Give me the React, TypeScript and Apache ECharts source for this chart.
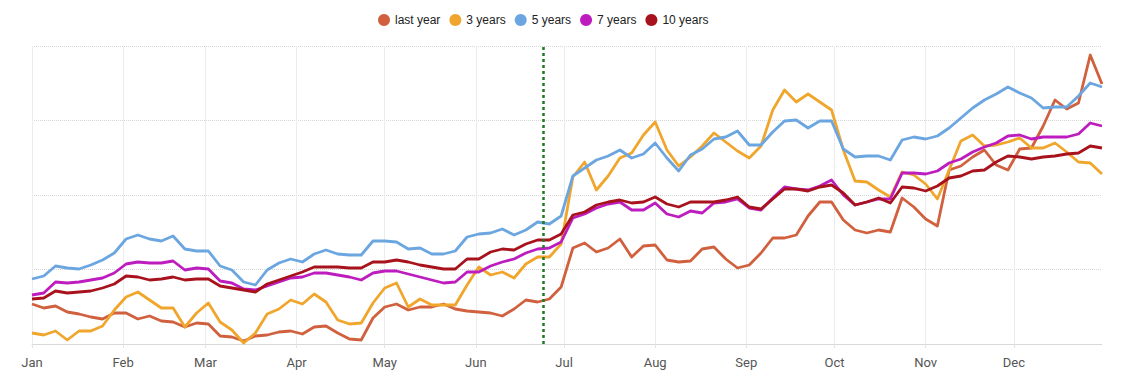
import React, { useEffect, useRef } from "react";
import * as echarts from "echarts";

// Daily categories for the year, and the sampled dates (every 4th day) the series values belong to
const YEAR = 2023;
const days: string[] = Array.from({ length: 365 }, (_, i) =>
  new Date(Date.UTC(YEAR, 0, 1 + i)).toISOString().slice(0, 10)
);
const sampleDays: string[] = days.filter((_, i) => i % 4 === 0);

const monthNames = ["Jan", "Feb", "Mar", "Apr", "May", "Jun", "Jul", "Aug", "Sep", "Oct", "Nov", "Dec"];
const markerDate = "2023-06-24";

const seriesNames = ["last year", "3 years", "5 years", "7 years", "10 years"];
const seriesColors = ["#d0603e", "#f0a62c", "#6ba6e0", "#bd1cbf", "#a8121c"];

const lastYear = [
  40, 36, 38, 32, 30, 27, 25, 31,
  31, 25, 28, 23, 22, 17, 21, 20,
  8, 7, 3, 8, 9, 12, 13, 10,
  17, 18, 11, 5, 4, 26, 37, 40,
  34, 37, 37, 40, 35, 33, 32, 31,
  28, 35, 44, 42, 45, 57, 96, 101,
  92, 96, 105, 87, 98, 99, 84, 82,
  83, 95, 97, 85, 76, 79, 91, 106,
  106, 109, 128, 142, 142, 124, 114, 111,
  114, 112, 146, 137, 125, 118, 174, 178,
  187, 194, 179, 174, 195, 196, 218, 244,
  235, 241, 289, 260,
];

const threeYears = [
  11, 9, 13, 4, 13, 13, 18, 34,
  47, 52, 44, 36, 36, 17, 31, 41,
  22, 14, 1, 11, 30, 35, 44, 40,
  50, 42, 24, 20, 21, 41, 56, 61,
  37, 45, 39, 39, 39, 59, 77, 69,
  72, 66, 80, 87, 87, 100, 167, 182,
  154, 168, 186, 191, 209, 222, 194, 178,
  187, 198, 211, 202, 193, 186, 198, 234,
  254, 242, 250, 242, 234, 194, 163, 162,
  154, 147, 172, 169, 160, 145, 174, 203,
  209, 198, 199, 202, 206, 196, 196, 201,
  192, 182, 181, 170,
];

const fiveYears = [
  65, 68, 78, 76, 75, 79, 84, 91,
  105, 109, 105, 103, 108, 95, 93, 93,
  78, 74, 62, 59, 74, 81, 85, 82,
  90, 94, 90, 89, 89, 103, 103, 102,
  95, 96, 90, 90, 93, 107, 110, 111,
  115, 109, 114, 122, 120, 128, 168, 176,
  184, 188, 194, 186, 190, 201, 186, 173,
  189, 195, 205, 207, 213, 199, 199, 212,
  223, 224, 216, 223, 223, 195, 187, 188,
  188, 184, 204, 207, 205, 208, 216, 226,
  236, 244, 250, 257, 251, 246, 236, 237,
  237, 248, 261, 257,
];

const sevenYears = [
  49, 51, 62, 61, 62, 64, 66, 71,
  80, 82, 81, 81, 83, 74, 76, 75,
  63, 61, 55, 54, 58, 62, 66, 67,
  71, 71, 69, 67, 64, 71, 73, 73,
  70, 67, 64, 61, 62, 72, 72, 78,
  82, 85, 91, 95, 96, 102, 126, 130,
  136, 140, 142, 134, 134, 141, 130, 127,
  133, 131, 141, 142, 145, 136, 134, 146,
  157, 155, 154, 158, 164, 149, 139, 142,
  145, 145, 171, 171, 170, 173, 181, 185,
  192, 197, 201, 208, 209, 205, 207, 207,
  207, 210, 221, 218,
];

const tenYears = [
  45, 46, 53, 51, 52, 53, 56, 60,
  68, 67, 64, 65, 67, 64, 65, 65,
  58, 56, 54, 52, 60, 64, 68, 72,
  77, 77, 77, 76, 76, 82, 82, 84,
  82, 79, 77, 75, 75, 85, 85, 92,
  95, 94, 100, 104, 104, 110, 129, 132,
  139, 142, 144, 141, 142, 147, 140, 137,
  142, 142, 142, 144, 147, 137, 135, 145,
  155, 155, 153, 157, 159, 151, 139, 142,
  146, 141, 157, 156, 153, 158, 166, 168,
  173, 174, 182, 188, 187, 185, 187, 188,
  190, 191, 198, 196,
];

const seriesValues = [lastYear, threeYears, fiveYears, sevenYears, tenYears];

const isMonthStart = (_i: number, v: string) => v.endsWith("-01");

export default function App() {
  const ref = useRef<HTMLDivElement>(null);

  useEffect(() => {
    if (!ref.current) return;
    const chart = echarts.init(ref.current, null, { renderer: "svg" });
    chart.setOption({
      animation: false,
      backgroundColor: "#ffffff",
      legend: {
        top: 9,
        left: 373,
        icon: "circle",
        itemWidth: 12,
        itemHeight: 12,
        itemGap: 9,
        textStyle: { fontFamily: "Arial, 'Liberation Sans', sans-serif", fontSize: 12, color: "#222" },
        data: seriesNames,
      },
      grid: { left: 32, right: 23, top: 46, bottom: 38 },
      xAxis: {
        type: "category",
        data: days,
        boundaryGap: false,
        axisLine: { show: true, lineStyle: { color: "#d9d9d9", width: 1 } },
        axisTick: { show: true, interval: isMonthStart, length: 4, lineStyle: { color: "#e2e2e2" } },
        axisLabel: {
          interval: isMonthStart,
          formatter: (v: string) => monthNames[parseInt(v.slice(5, 7), 10) - 1],
          fontFamily: "Roboto, Arial, sans-serif",
          fontSize: 13,
          color: "#555",
          margin: 12,
        },
        splitLine: { show: true, interval: isMonthStart, lineStyle: { color: "#ececec", width: 1 } },
      },
      yAxis: {
        type: "value",
        min: 0,
        max: 298,
        interval: 74.5,
        axisLabel: { show: false },
        axisLine: { show: false },
        axisTick: { show: false },
        splitLine: { show: true, lineStyle: { type: "dotted", color: "#d6d6d6", width: 1 } },
      },
      series: seriesNames.map((name, k) => ({
        name,
        type: "line",
        showSymbol: false,
        symbol: "none",
        smooth: false,
        color: seriesColors[k],
        lineStyle: { width: 2.8, color: seriesColors[k], join: "round" },
        emphasis: { disabled: true },
        data: sampleDays.map((d, i) => [d, seriesValues[k][i]]),
        ...(k === 0
          ? {
              markLine: {
                silent: true,
                symbol: "none",
                label: { show: false },
                lineStyle: { color: "#1f7a22", type: [3, 3], width: 2.5 },
                data: [{ xAxis: markerDate }],
              },
            }
          : {}),
      })),
    });
    return () => chart.dispose();
  }, []);

  return (
    <div
      ref={ref}
      style={{ position: "fixed", left: 0, top: 0, width: 1125, height: 382, background: "#fff" }}
    />
  );
}
